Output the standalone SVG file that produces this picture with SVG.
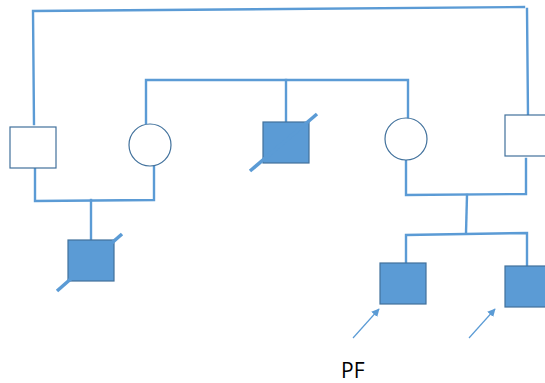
<svg xmlns="http://www.w3.org/2000/svg" width="545" height="383" viewBox="0 0 545 383">
<style>
.ln{fill:none;stroke:#5b9bd5;stroke-width:2.4;stroke-linecap:square}
.ar{fill:none;stroke:#5b9bd5;stroke-width:1.2}
.sl{stroke:#5b9bd5;stroke-width:3.5}
.open{fill:#ffffff;stroke:#41719c;stroke-width:1.2}
.aff{fill:#5b9bd5;stroke:#41719c;stroke-width:1.2}
.lbl{font-family:"Open Sans","Liberation Sans",Arial,sans-serif;font-size:21px;fill:#000}
</style>
<defs>
<marker id="ah" viewBox="0 0 10 10" refX="9" refY="5" markerWidth="8" markerHeight="8" markerUnits="userSpaceOnUse" orient="auto">
<path d="M0,0 L10,5 L0,10 z" fill="#5b9bd5"/>
</marker>
</defs>
<g id="connectors">
<polyline class="ln" points="34,124 33,11 524,7"/>
<line class="ln" x1="527" y1="9" x2="528" y2="115"/>
<polyline class="ln" points="146,123 146,80 408,80 408,118"/>
<line class="ln" x1="286" y1="80" x2="286" y2="121"/>
<polyline class="ln" points="35,168 35,201 154,200 154,167"/>
<line class="ln" x1="91" y1="200" x2="91" y2="240"/>
<polyline class="ln" points="406,160 406,195 526,194 526,159"/>
<line class="ln" x1="467" y1="195" x2="466" y2="233"/>
<polyline class="ln" points="406,263 406,235 527,233 527,266"/>
<line class="ar" x1="353" y1="338" x2="379" y2="309" marker-end="url(#ah)"/>
<line class="ar" x1="469" y1="338" x2="495" y2="309" marker-end="url(#ah)"/>
</g>
<g id="n-left-male"><rect class="open" x="10" y="127" width="46" height="41"/></g>
<g id="n-left-female"><circle class="open" cx="150" cy="145" r="21"/></g>
<g id="n-mid-male">
<rect class="aff" x="263" y="122" width="46" height="41"/>
<line class="sl" x1="250" y1="171" x2="317" y2="114"/>
</g>
<g id="n-right-female"><circle class="open" cx="406" cy="139" r="21"/></g>
<g id="n-right-male"><rect class="open" x="505" y="115" width="46" height="41"/></g>
<g id="n-child-left">
<rect class="aff" x="68" y="240" width="46" height="41"/>
<line class="sl" x1="57" y1="291" x2="122" y2="234"/>
</g>
<g id="n-child-1"><rect class="aff" x="380" y="263" width="46" height="41"/></g>
<g id="n-child-2"><rect class="aff" x="505" y="266" width="46" height="41"/></g>
<g id="label"><text class="lbl" x="341" y="378">PF</text></g>
</svg>
